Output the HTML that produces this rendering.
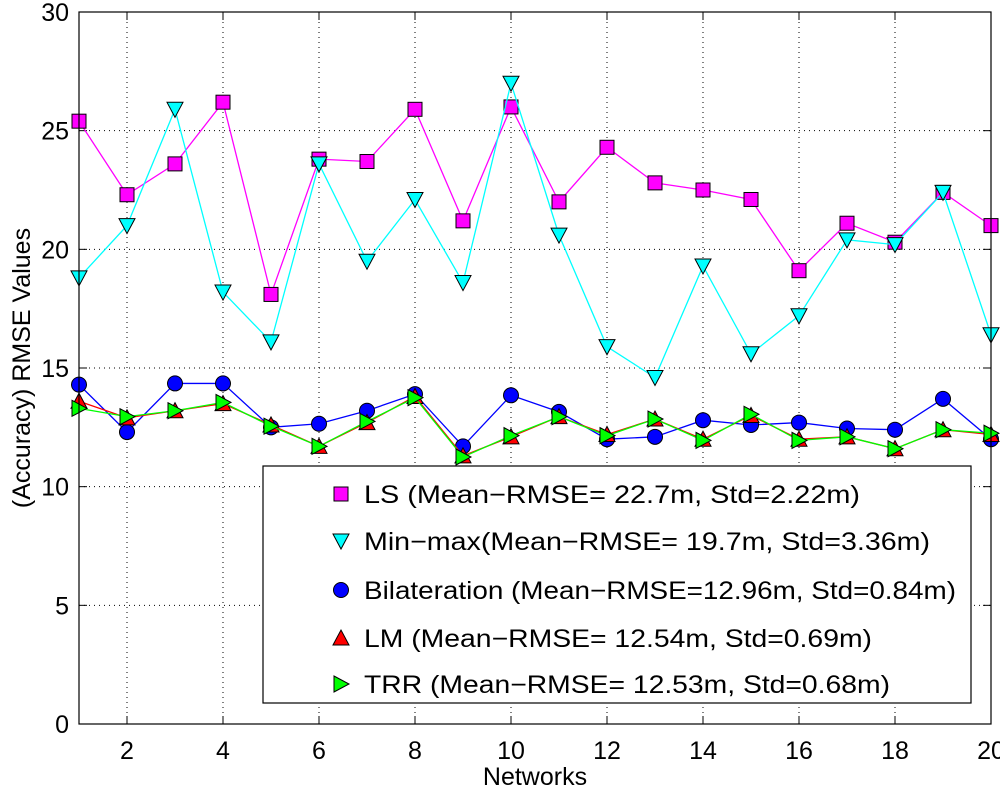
<!DOCTYPE html>
<html><head><meta charset="utf-8"><style>
html,body{margin:0;padding:0;background:#fff;}
svg{display:block;font-family:"Liberation Sans",sans-serif;}
</style></head><body>
<svg id="chart" width="1000" height="792" xmlns="http://www.w3.org/2000/svg"></svg>
<script>
const networks=[1,2,3,4,5,6,7,8,9,10,11,12,13,14,15,16,17,18,19,20];
const lsValues=[25.4,22.3,23.6,26.2,18.1,23.8,23.7,25.9,21.2,26.0,22.0,24.3,22.8,22.5,22.1,19.1,21.1,20.3,22.4,21.0];
const minmaxValues=[18.8,21.0,25.9,18.2,16.1,23.6,19.5,22.1,18.6,27.0,20.6,15.9,14.6,19.3,15.6,17.2,20.4,20.2,22.4,16.4];
const bilatValues=[14.3,12.3,14.35,14.35,12.5,12.65,13.2,13.9,11.7,13.85,13.15,12.0,12.1,12.8,12.6,12.7,12.45,12.4,13.7,12.0];
const lmValues=[13.6,12.9,13.2,13.5,12.6,11.7,12.7,13.8,11.3,12.1,12.95,12.2,12.85,12.0,13.0,12.0,12.1,11.6,12.4,12.2];
const trrValues=[13.3,12.95,13.2,13.55,12.55,11.7,12.75,13.75,11.25,12.15,12.95,12.15,12.85,11.95,13.05,11.95,12.1,11.6,12.4,12.25];
const xTicks=[2,4,6,8,10,12,14,16,18,20];
const yTicks=[0,5,10,15,20,25,30];
const legendLabels=["LS (Mean\u2212RMSE= 22.7m, Std=2.22m)","Min\u2212max(Mean\u2212RMSE= 19.7m, Std=3.36m)","Bilateration (Mean\u2212RMSE=12.96m, Std=0.84m)","LM (Mean\u2212RMSE= 12.54m, Std=0.69m)","TRR (Mean\u2212RMSE= 12.53m, Std=0.68m)"];
const legendWidths=[496,566,592,508,526];

const L=79,R=991,T=12,B=724;
const xs=v=>L+(v-1)*(R-L)/19;
const ys=v=>B-v*(B-T)/30;
const NS="http://www.w3.org/2000/svg";
const svg=document.getElementById('chart');
function mk(tag,attrs,parent){const e=document.createElementNS(NS,tag);for(const k in attrs)e.setAttribute(k,attrs[k]);(parent||svg).appendChild(e);return e;}

xTicks.forEach(t=>{if(t<20){const g=mk('line',{x1:xs(t),x2:xs(t),y1:T,y2:B,stroke:'#000','stroke-width':1,'stroke-dasharray':'1,4'});

}});
yTicks.forEach(t=>{if(t>0&&t<30){const g=mk('line',{x1:L,x2:R,y1:ys(t),y2:ys(t),stroke:'#000','stroke-width':1,'stroke-dasharray':'1,4'});

}});

xTicks.forEach(t=>{
 mk('line',{x1:xs(t),x2:xs(t),y1:B,y2:B-8,stroke:'#000'});
 mk('line',{x1:xs(t),x2:xs(t),y1:T,y2:T+8,stroke:'#000'});
 const tx=mk('text',{x:xs(t),y:B+35,'font-size':25,'text-anchor':'middle'});tx.textContent=t;
 
 
});
yTicks.forEach(t=>{
 mk('line',{x1:L,x2:L+8,y1:ys(t),y2:ys(t),stroke:'#000'});
 mk('line',{x1:R,x2:R-8,y1:ys(t),y2:ys(t),stroke:'#000'});
 const tx=mk('text',{x:L-10,y:ys(t)+9,'font-size':25,'text-anchor':'end'});tx.textContent=t;
 
 
});

function marker(type,x,y,fill,g){
 const s=7;let e;
 if(type==='sq')e=mk('rect',{x:x-s,y:y-s,width:2*s,height:2*s,fill,stroke:'#000','stroke-width':1},g);
 else if(type==='circ')e=mk('circle',{cx:x,cy:y,r:s+0.5,fill,stroke:'#000','stroke-width':1},g);
 else if(type==='tdown')e=mk('polygon',{points:`${x-8},${y-7} ${x+8},${y-7} ${x},${y+8}`,fill,stroke:'#000','stroke-width':1},g);
 else if(type==='tup')e=mk('polygon',{points:`${x-8},${y+7} ${x+8},${y+7} ${x},${y-8}`,fill,stroke:'#000','stroke-width':1},g);
 else e=mk('polygon',{points:`${x-7},${y-8} ${x-7},${y+8} ${x+8},${y}`,fill,stroke:'#000','stroke-width':1},g);
 return e;
}
const series=[
 {name:'ls',vals:lsValues,color:'#ff00ff',fill:'#ff00ff',m:'sq'},
 {name:'minmax',vals:minmaxValues,color:'#00ffff',fill:'#00ffff',m:'tdown'},
 {name:'bilateration',vals:bilatValues,color:'#0000ff',fill:'#0000ff',m:'circ'},
 {name:'lm',vals:lmValues,color:'#ff0000',fill:'#ff0000',m:'tup'},
 {name:'trr',vals:trrValues,color:'#00ff00',fill:'#00ff00',m:'tri'}
];
series.forEach(s=>{
 const g=mk('g',{});
 
 
 const pts=s.vals.map((v,i)=>xs(networks[i])+','+ys(v)).join(' ');
 const pl=mk('polyline',{points:pts,fill:'none',stroke:s.color,'stroke-width':1.3},g);
 
 
 s.vals.forEach((v,i)=>{const m=marker(s.m,xs(networks[i]),ys(v),s.fill,g);
  
  });
});

mk('rect',{x:L,y:T,width:R-L,height:B-T,fill:'none',stroke:'#000','stroke-width':1.2});

const lg=mk('g',{});


mk('rect',{x:263,y:466,width:708,height:237,fill:'#fff',stroke:'#000','stroke-width':1.2},lg);
const ly=[494,541,590,638,684];
series.forEach((s,i)=>{
 const m=marker(s.m,341,ly[i],s.fill,lg);
 
 
 const t=mk('text',{x:364,y:ly[i]+9,'font-size':25,textLength:legendWidths[i],lengthAdjust:'spacingAndGlyphs'},lg);t.textContent=legendLabels[i];
 
 
});

const xt=mk('text',{x:535,y:785,'font-size':25,'text-anchor':'middle'});xt.textContent='Networks';


const yt=mk('text',{x:0,y:0,'font-size':25,'text-anchor':'middle',transform:'translate(30,368) rotate(-90)'});yt.textContent='(Accuracy) RMSE Values';


</script>
</body></html>
